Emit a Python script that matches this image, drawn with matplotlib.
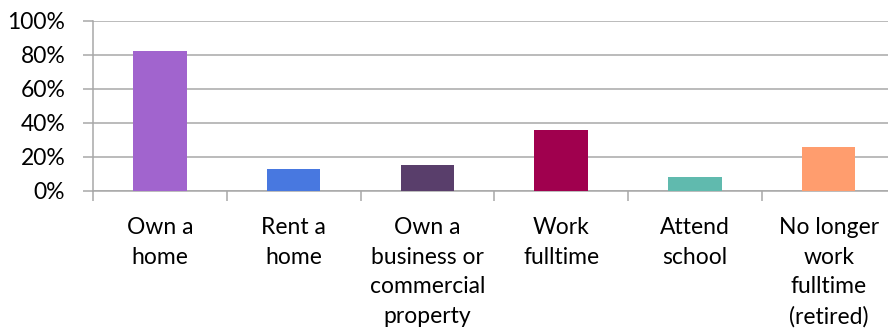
import matplotlib
matplotlib.use("Agg")
import matplotlib.pyplot as plt
from matplotlib.ticker import FuncFormatter, MultipleLocator

categories = ["Own a\nhome", "Rent a\nhome", "Own a\nbusiness or\ncommercial\nproperty",
              "Work\nfulltime", "Attend\nschool", "No longer\nwork\nfulltime\n(retired)"]
values = [82, 13, 15, 36, 8, 26]
colors = ["#A164CE", "#4878E0", "#593E6B", "#A0004E", "#60BAAE", "#FF9D6E"]

plt.rcParams["font.family"] = ["Lato", "DejaVu Sans"]

W, H = 888, 335
fig = plt.figure(figsize=(W / 100, H / 100), dpi=100)
x0, x1 = 93, 895.5
y0, y1 = 190.7, 20.7
ax = fig.add_axes([x0 / W, (H - y0) / H, (x1 - x0) / W, (y0 - y1) / H])

grid_c = "#A8A8A8"
pos = range(len(categories))
ax.bar(pos, values, width=0.40, color=colors, zorder=3)

ax.set_xlim(-0.5, len(categories) - 0.5)
ax.set_ylim(0, 100)
ax.yaxis.set_major_locator(MultipleLocator(20))
ax.yaxis.set_major_formatter(FuncFormatter(lambda v, _: f"{v:.0f}%"))
ax.grid(axis="y", color=grid_c, linewidth=1.1, zorder=0)

ax.set_xticks([i + 0.5 for i in range(-1, len(categories))], minor=False)
ax.set_xticklabels([])
ax.set_xticks(list(pos), minor=True)
ax.set_xticklabels(categories, minor=True, fontsize=16.5, linespacing=1.5,
                   color="#000000")
ax.tick_params(axis="x", which="major", length=7, color=grid_c, width=1.1,
               direction="out")
ax.tick_params(axis="x", which="minor", length=0, pad=19)
ax.tick_params(axis="y", length=7, color=grid_c, width=1.1, pad=13,
               labelsize=16.5, labelcolor="#000000")

for s in ("top", "right"):
    ax.spines[s].set_visible(False)
for s in ("left", "bottom"):
    ax.spines[s].set_color(grid_c)
    ax.spines[s].set_linewidth(1.1)
ax.set_axisbelow(True)

fig.savefig("out.png", dpi=100)
